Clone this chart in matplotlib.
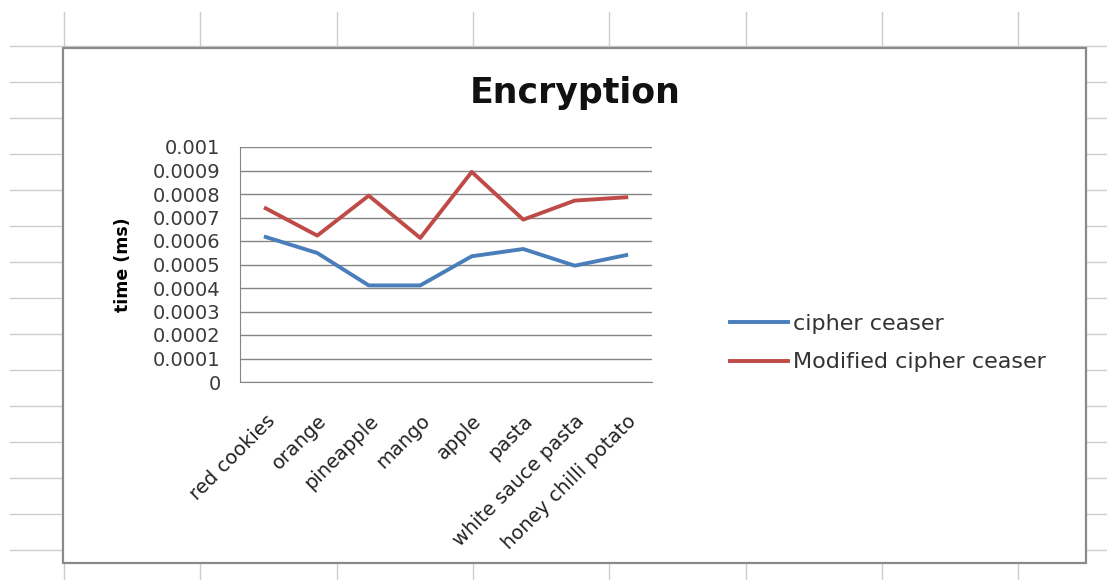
import numpy as np
import matplotlib
matplotlib.use('Agg')
import matplotlib.pyplot as plt
import matplotlib.transforms as mtrans
from matplotlib.patches import Rectangle

plt.rcParams['font.family'] = ['DejaVu Sans']

# data
categories = ['red cookies', 'orange', 'pineapple', 'mango', 'apple', 'pasta',
              'white sauce pasta', 'honey chilli potato']
cipher_ceaser = [0.000617, 0.000549, 0.000411, 0.000411, 0.000535, 0.000566, 0.000495, 0.00054]
modified_ceaser = [0.000739, 0.000623, 0.000793, 0.000613, 0.000894, 0.000691, 0.000772, 0.000786]
yticks = [0, 0.0001, 0.0002, 0.0003, 0.0004, 0.0005, 0.0006, 0.0007, 0.0008, 0.0009, 0.001]
ytick_labels = ['0', '0.0001', '0.0002', '0.0003', '0.0004', '0.0005', '0.0006',
                '0.0007', '0.0008', '0.0009', '0.001']

W, H = 1107, 580
fig = plt.figure(figsize=(W / 100, H / 100), dpi=100)

# spreadsheet background, pixel coords
bg = fig.add_axes([0, 0, 1, 1], zorder=0)
bg.set_xlim(0, W)
bg.set_ylim(H, 0)
bg.axis('off')
sheet_col = '#cccccc'
for xx in 64 + 136.3 * np.arange(8):
    bg.plot([xx, xx], [12, H], color=sheet_col, lw=1)
for yy in 46 + 36.0 * np.arange(15):
    bg.plot([10, W], [yy, yy], color=sheet_col, lw=1)
# chart frame
bg.add_patch(Rectangle((63, 48), 1086 - 63, 563 - 48, facecolor='white',
                       edgecolor='#8a8a8a', lw=1.6, zorder=3))
bg.text(575, 103, 'Encryption', fontsize=25, fontweight='bold', ha='center',
        va='baseline', color='#111111', zorder=4)

# plot area
ax = fig.add_axes([240 / W, 1 - 382 / H, (652 - 240) / W, (382 - 147) / H], zorder=2)
ax.patch.set_alpha(0)
x = np.arange(len(categories))
ax.plot(x, cipher_ceaser, color='#4A7EBB', lw=2.8, label='cipher ceaser')
ax.plot(x, modified_ceaser, color='#BE4B48', lw=2.8, label='Modified cipher ceaser')
ax.set_xlim(-0.5, len(categories) - 0.5)
ax.set_ylim(0, 0.001)
ax.set_yticks(yticks)
ax.set_yticklabels(ytick_labels, fontsize=14, color='#3a3a3a')
ax.set_xticks(x)
ax.set_xticklabels(categories, rotation=45, ha='right', va='top', rotation_mode='anchor',
                   fontsize=14, color='#222222')
shift = mtrans.ScaledTranslation(2 / 100, 0, fig.dpi_scale_trans)
for lab in ax.get_xticklabels():
    lab.set_transform(lab.get_transform() + shift)
ax.tick_params(axis='y', length=0, pad=14)
ax.tick_params(axis='x', length=0, pad=21)
ax.grid(axis='y', color='#858585', lw=1)
ax.set_axisbelow(True)
for s in ['top', 'right']:
    ax.spines[s].set_visible(False)
ax.spines['left'].set_color('#858585')
ax.spines['bottom'].set_color('#858585')
ax.set_ylabel('time (ms)', fontsize=12.5, fontweight='bold')
ax.yaxis.set_label_coords(132 / W, 1 - 265 / H, transform=fig.transFigure)

leg = ax.legend(loc='center left', bbox_to_anchor=(730 / W, 1 - 343 / H),
                bbox_transform=fig.transFigure, frameon=False, fontsize=16,
                handlelength=2.6, handletextpad=0.25, labelspacing=0.85,
                borderaxespad=0, borderpad=0)
for t in leg.get_texts():
    t.set_color('#333333')

fig.savefig('out.png', dpi=100)
